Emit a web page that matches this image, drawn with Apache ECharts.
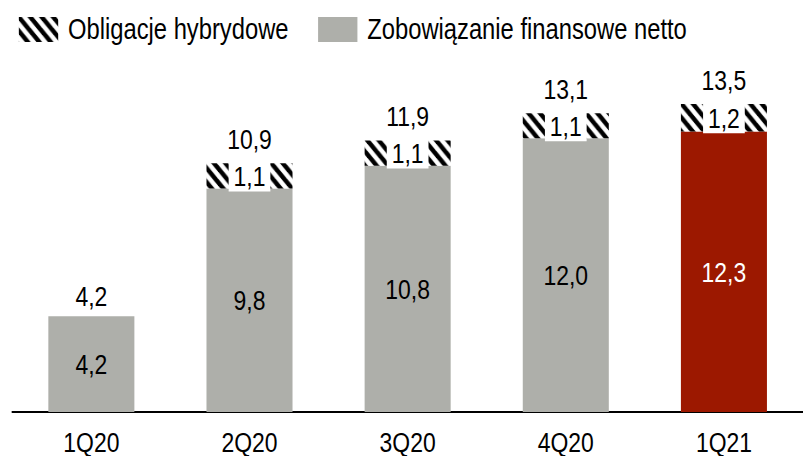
<!DOCTYPE html>
<html>
<head>
<meta charset="utf-8">
<script src="https://cdn.jsdelivr.net/npm/echarts@6/dist/echarts.min.js"></script>
<style>
  html, body { margin: 0; padding: 0; background: #ffffff; overflow: hidden; }
  /* Chart is laid out wider and squeezed horizontally for a narrow typeface look */
  #chart { width: 980px; height: 456px; transform: scaleX(0.81939); transform-origin: 0 0; }
</style>
</head>
<body>
<div id="chart"></div>
<script>
// Quarters on the category axis
const quarters = ['1Q20', '2Q20', '3Q20', '4Q20', '1Q21'];
// Net financial liability (bln PLN)
const netLiability = [4.2, 9.8, 10.8, 12.0, 12.3];
// Hybrid bonds (bln PLN); 0 = none in that quarter
const hybridBonds = [0, 1.1, 1.1, 1.1, 1.2];
// Totals printed above each column
const totals = [4.2, 10.9, 11.9, 13.1, 13.5];

const FONT = "'Liberation Sans', Arial, sans-serif";
const GREY = '#aeafaa';
const RED = '#9c1800';

// Diagonal black/white stripes for the hybrid-bond segments
function stripePattern() {
  const s = 14;
  const c = document.createElement('canvas');
  c.width = s; c.height = s;
  const g = c.getContext('2d');
  g.fillStyle = '#ffffff';
  g.fillRect(0, 0, s, s);
  g.strokeStyle = '#000000';
  g.lineWidth = 5;
  for (let k = -1; k <= 1; k++) {
    g.beginPath();
    g.moveTo(k * s - 2, -2);
    g.lineTo(k * s + s + 2, s + 2);
    g.stroke();
  }
  return { image: c, repeat: 'repeat' };
}

const fmt = v => v.toFixed(1).replace('.', ',');
const last = quarters.length - 1;

const chart = echarts.init(document.getElementById('chart'), null, { renderer: 'svg' });

chart.setOption({
  animation: false,
  textStyle: { fontFamily: FONT },
  legend: {
    left: 18,
    top: 10,
    icon: 'rect',
    itemWidth: 48,
    itemHeight: 25,
    itemGap: 36,
    data: ['Obligacje hybrydowe', 'Zobowiązanie finansowe netto'],
    textStyle: { fontFamily: FONT, fontSize: 29, color: '#000', padding: [0, 0, 0, 7] }
  },
  grid: { left: 15, right: -7, top: 47, bottom: 39 },
  xAxis: {
    type: 'category',
    data: quarters,
    axisLine: { lineStyle: { color: '#000', width: 2 } },
    axisTick: { show: false },
    axisLabel: { fontFamily: FONT, fontSize: 28, color: '#000', margin: 16 }
  },
  yAxis: { type: 'value', min: 0, max: 16, show: false, splitLine: { show: false } },
  series: [
    {
      name: 'Zobowiązanie finansowe netto',
      type: 'bar',
      stack: 'total',
      barWidth: 105,
      itemStyle: { color: GREY },
      label: {
        show: true, position: 'inside', fontFamily: FONT, fontSize: 28, color: '#000',
        formatter: p => fmt(p.value)
      },
      data: netLiability.map((v, i) => i === last
        ? { value: v, itemStyle: { color: RED }, label: { color: '#fff' } }
        : v)
    },
    {
      name: 'Obligacje hybrydowe',
      type: 'bar',
      stack: 'total',
      barWidth: 105,
      itemStyle: { color: stripePattern() },
      label: {
        show: true, position: 'inside', fontFamily: FONT, fontSize: 28, color: '#000',
        backgroundColor: '#fff', padding: [2, 6, 1, 6],
        formatter: p => fmt(p.value)
      },
      data: hybridBonds.map(v => v > 0 ? v : { value: 0, label: { show: false } })
    },
    {
      name: 'Suma',
      type: 'bar',
      stack: 'total',
      barWidth: 105,
      itemStyle: { color: 'transparent' },
      label: {
        show: true, position: 'top', fontFamily: FONT, fontSize: 28, color: '#000',
        formatter: p => fmt(totals[p.dataIndex])
      },
      data: totals.map((t, i) => ({ value: 0, label: { distance: hybridBonds[i] > 0 ? 10 : 6 } }))
    }
  ]
});
</script>
</body>
</html>
